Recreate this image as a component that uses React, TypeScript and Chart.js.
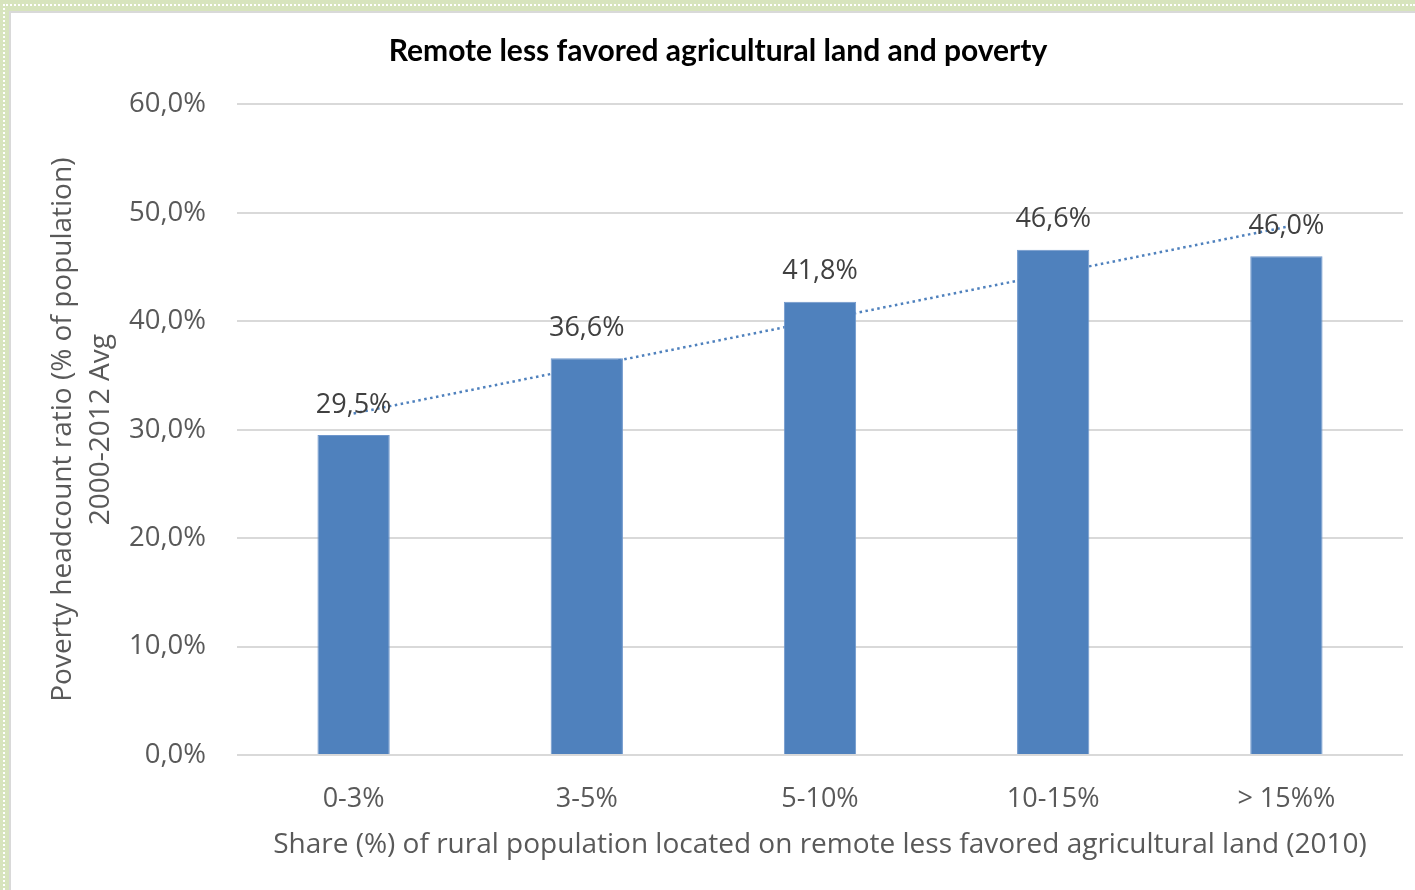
import React, { useEffect, useRef } from "react";
import { Chart, registerables } from "chart.js";

Chart.register(...registerables);

const categories: string[] = ["0-3%", "3-5%", "5-10%", "10-15%", "> 15%%"];
const povertyValues: number[] = [29.5, 36.6, 41.8, 46.6, 46.0];
// linear trendline end points (first and last category)
const trendValues: (number | null)[] = [31.5, null, null, null, 48.7];
const yTicks: number[] = [0, 10, 20, 30, 40, 50, 60];

const titleText = "Remote less favored agricultural land and poverty";
const yTitle: string[] = ["Poverty headcount ratio (% of population)", "2000-2012 Avg"];
const xTitle = "Share (%) of rural population located on remote less favored agricultural land (2010)";

const FONT = "'Open Sans', sans-serif";
const TITLE_FONT = "Lato, sans-serif";
const fmt = (v: number) => v.toFixed(1).replace(".", ",") + "%";

const labelPlugin = {
  id: "barLabels",
  afterDatasetsDraw(chart: any) {
    const meta = chart.getDatasetMeta(0);
    const ctx = chart.ctx;
    ctx.save();
    ctx.font = `27px ${FONT}`;
    ctx.fillStyle = "#404040";
    ctx.textAlign = "center";
    ctx.textBaseline = "middle";
    meta.data.forEach((el: any, i: number) => {
      ctx.fillText(fmt(povertyValues[i]), el.x, el.y - 30);
    });
    ctx.restore();
  },
};

export default function App() {
  const ref = useRef<HTMLCanvasElement | null>(null);
  useEffect(() => {
    if (!ref.current) return;
    const chart = new Chart(ref.current, {
      type: "bar",
      data: {
        labels: categories,
        datasets: [
          {
            type: "bar",
            data: povertyValues,
            backgroundColor: "#4f81bd",
            borderColor: "#6f97cc",
            borderWidth: 1,
            barPercentage: 0.31,
            categoryPercentage: 1,
            order: 0,
          },
          {
            type: "line",
            data: trendValues,
            spanGaps: true,
            borderColor: "#4f81bd",
            borderWidth: 2.5,
            borderDash: [2.5, 3.5],
            pointRadius: 0,
            fill: false,
            order: 1,
          } as any,
        ],
      },
      options: {
        animation: false,
        responsive: true,
        maintainAspectRatio: false,
        layout: { padding: { top: 0, left: 33, right: 12, bottom: 0 } },
        plugins: {
          legend: { display: false },
          tooltip: { enabled: false },
          title: {
            display: true,
            text: titleText,
            color: "#000000",
            font: { family: TITLE_FONT, size: 30, weight: "bold", lineHeight: 1.2 },
            padding: { top: 33, bottom: 35.4 },
          },
        },
        scales: {
          x: {
            grid: { display: false, drawTicks: false },
            border: { display: false },
            ticks: {
              color: "#595959",
              font: { family: FONT, size: 27 },
              padding: 28,
              maxRotation: 0,
            },
            title: {
              display: true,
              text: xTitle,
              color: "#595959",
              font: { family: FONT, size: 28, lineHeight: 1.2 },
              padding: { top: 0, bottom: 28.2 },
            },
            afterFit: (s: any) => {
              s.height = 135;
            },
          },
          y: {
            min: 0,
            max: 60,
            afterBuildTicks: (s: any) => {
              s.ticks = yTicks.map((v) => ({ value: v }));
            },
            grid: { color: "#d9d9d9", lineWidth: 2, drawTicks: false },
            border: { display: false },
            ticks: {
              color: "#595959",
              font: { family: FONT, size: 27.5 },
              padding: 31,
              callback: (v: any) => fmt(Number(v)),
            },
            title: {
              display: true,
              text: yTitle,
              color: "#595959",
              font: { family: FONT, size: 28, lineHeight: 1.36 },
              padding: { top: 11, bottom: 0 },
            },
            afterFit: (s: any) => {
              s.width = 204;
            },
          },
        },
      },
      plugins: [labelPlugin],
    });
    return () => chart.destroy();
  }, []);

  return (
    <div
      style={{
        position: "fixed",
        left: 0,
        top: 0,
        width: 1415,
        height: 890,
        background: "#d7e4bd",
        overflow: "hidden",
      }}
    >
      <div
        style={{
          position: "absolute",
          left: 3,
          top: 4,
          right: 0,
          bottom: 0,
          borderLeft: "2px dotted #ffffff",
          borderTop: "2px dotted #ffffff",
        }}
      />
      <div
        style={{
          position: "absolute",
          left: 9,
          top: 11,
          right: 0,
          bottom: 0,
          background: "#ffffff",
          borderLeft: "2px solid #d9d9d9",
          borderTop: "2px solid #d9d9d9",
        }}
      />
      <div style={{ position: "absolute", left: 0, top: 0, width: 1415, height: 890 }}>
        <canvas ref={ref} />
      </div>
    </div>
  );
}
